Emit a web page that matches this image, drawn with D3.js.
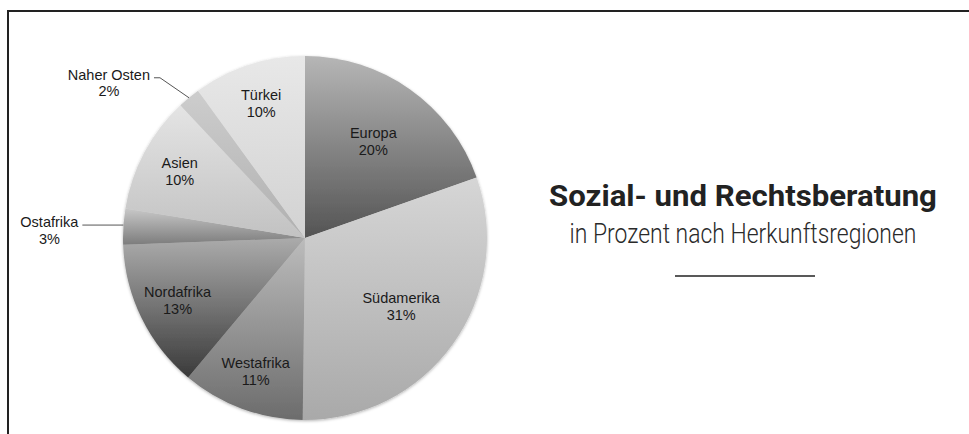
<!DOCTYPE html>
<html>
<head>
<meta charset="utf-8">
<script src="https://cdn.jsdelivr.net/npm/d3@7"></script>
<style>
  html, body { margin: 0; padding: 0; background: #fff; }
  svg { display: block; }
</style>
</head>
<body>
<svg id="chart" width="969" height="434"></svg>
<script>
// ---- data ----
const categories = ["Europa", "Südamerika", "Westafrika", "Nordafrika", "Ostafrika", "Asien", "Naher Osten", "Türkei"];
const values = [19.6, 30.6, 10.9, 13.3, 3.2, 10.4, 2.0, 10.0];
const gradTop =    ["#b6b6b6", "#d6d6d6", "#bcbcbc", "#ababab", "#c8c8c8", "#e4e4e4", "#cdcdcd", "#e8e8e8"];
const gradBottom = ["#545454", "#a9a9a9", "#6c6c6c", "#3a3a3a", "#7c7c7c", "#c2c2c2", "#b0b0b0", "#d2d2d2"];
const titleText = "Sozial- und Rechtsberatung";
const subtitleText = "in Prozent nach Herkunftsregionen";

// ---- layout ----
const cx = 305, cy = 238, R = 182;

const svg = d3.select("#chart");
const defs = svg.append("defs");

// border frame (extends past right & bottom edges)
svg.append("rect")
  .attr("x", 8).attr("y", 11)
  .attr("width", 1100).attr("height", 600)
  .attr("fill", "none").attr("stroke", "#222").attr("stroke-width", 2);

// shadow filter
const f = defs.append("filter").attr("id", "shadow")
  .attr("x", "-10%").attr("y", "-10%").attr("width", "120%").attr("height", "120%");
f.append("feDropShadow").attr("dx", 0).attr("dy", 1).attr("stdDeviation", 1.6)
  .attr("flood-color", "#000").attr("flood-opacity", 0.3);

// gradients
categories.forEach((c, i) => {
  const g = defs.append("linearGradient").attr("id", "g" + i)
    .attr("x1", 0).attr("y1", 0).attr("x2", 0).attr("y2", 1);
  g.append("stop").attr("offset", "0%").attr("stop-color", gradTop[i]);
  g.append("stop").attr("offset", "100%").attr("stop-color", gradBottom[i]);
});

const data = categories.map((c, i) => ({ name: c, value: values[i], i }));
const pie = d3.pie().sort(null).value(d => d.value);
const arcs = pie(data);
const arc = d3.arc().innerRadius(0).outerRadius(R);

const gPie = svg.append("g").attr("transform", `translate(${cx},${cy})`);
gPie.append("g").attr("filter", "url(#shadow)")
  .selectAll("path").data(arcs).enter().append("path")
  .attr("d", arc)
  .attr("fill", d => `url(#g${d.data.i})`);

const fontFam = "'Liberation Sans', Arial, sans-serif";
const fs = 14.5;
const total = d3.sum(values);
const pct = d => Math.round(d.value / total * 100) + "%";

// inside labels
arcs.filter(d => d.data.value >= 5).forEach(d => {
  const rr = d.data.value >= 15 ? R * 0.65 : R * 0.78;
  const a = (d.startAngle + d.endAngle) / 2;
  const x = Math.sin(a) * rr, y = -Math.cos(a) * rr;
  const t = gPie.append("text")
    .attr("font-family", fontFam).attr("font-size", fs).attr("fill", "#1a1a1a")
    .attr("text-anchor", "middle");
  t.append("tspan").attr("x", x).attr("y", y - 3.5).text(d.data.name);
  t.append("tspan").attr("x", x).attr("y", y + 13.5).text(pct(d.data));
});

// outside labels with leader lines
arcs.filter(d => d.data.value < 5).forEach(d => {
  const a = (d.startAngle + d.endAngle) / 2;
  const p0 = [Math.sin(a) * R, -Math.cos(a) * R];
  const horiz = Math.abs(Math.cos(a)) < 0.15;
  let pts;
  if (horiz) {
    const y = p0[1] - 1.5;
    pts = [[p0[0], y], [p0[0] - 41, y]];
  } else {
    const p1 = [p0[0] - 29, p0[1] - 20];
    pts = [p0, p1, [p1[0] - 6, p1[1]]];
  }
  const end = pts[pts.length - 1];
  gPie.append("path")
    .attr("d", d3.line()(pts))
    .attr("fill", "none").attr("stroke", "#555").attr("stroke-width", 1);
  const t = gPie.append("text")
    .attr("font-family", fontFam).attr("font-size", fs).attr("fill", "#1a1a1a")
    .attr("text-anchor", "middle");
  const s1 = t.append("tspan").attr("y", end[1] + 2).text(d.data.name);
  const s2 = t.append("tspan").attr("y", end[1] + 18.5).text(pct(d.data));
  const w = s1.node().getComputedTextLength();
  const xm = end[0] - 4 - w / 2;
  s1.attr("x", xm); s2.attr("x", xm);
});

// title block (compressed horizontally to match the condensed original face)
const tx = 743;
function fitted(text, y, size, weight, width, color) {
  const t = svg.append("text")
    .attr("x", 0).attr("y", 0)
    .attr("text-anchor", "middle")
    .attr("font-family", "Roboto, 'Open Sans', sans-serif")
    .attr("font-weight", weight).attr("font-size", size).attr("fill", color)
    .text(text);
  const w = t.node().getComputedTextLength();
  t.attr("transform", `translate(${tx},${y}) scale(${width / w},1)`);
  return t;
}
fitted(titleText, 206, 29.5, 700, 388, "#222");
fitted(subtitleText, 243, 27, 300, 347, "#2a2a2a");

svg.append("line")
  .attr("x1", 675).attr("x2", 815).attr("y1", 276).attr("y2", 276)
  .attr("stroke", "#222").attr("stroke-width", 1.5);
</script>
</body>
</html>
